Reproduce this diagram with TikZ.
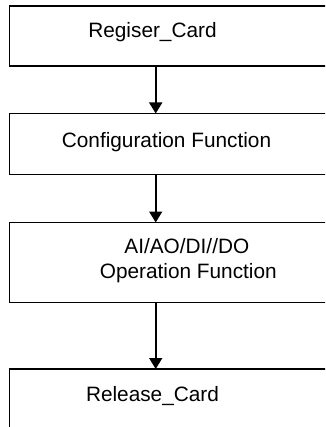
\documentclass[tikz,border=0pt]{standalone}
\usepackage{fontspec}
\setmainfont{Liberation Sans}
\usetikzlibrary{arrows.meta}
\begin{document}
\begin{tikzpicture}[x=1pt,y=-1pt,
  stepbox/.style={draw, line width=1.6pt, minimum width=340pt, anchor=north west,
                  inner sep=0pt, outer sep=0pt},
  steptext/.style={font=\fontsize{20.8}{25}\selectfont, anchor=base, inner sep=0pt},
  flow/.style={line width=1.6pt, -{Triangle[width=13pt,length=11pt]}}]
  % page frame; the boxes run past its right and bottom edges
  \clip (0,0) rectangle (325,427);
  \fill[white] (0,0) rectangle (325,427);

  % process steps
  \node[stepbox, minimum height=60pt] (b1) at (9.5,6)     {};
  \node[stepbox, minimum height=61pt] (b2) at (9.5,113.5) {};
  \node[stepbox, minimum height=80pt] (b3) at (9.5,222.5) {};
  \node[stepbox, minimum height=90pt] (b4) at (9.5,369)   {};

  % step texts
  \node[steptext] (t1)  at (152.5,37.7)  {Regiser\_Card};
  \node[steptext] (t2)  at (166.5,147.7) {Configuration Function};
  \node[steptext] (t3a) at (186.8,253.3) {AI/AO/DI//DO};
  \node[steptext] (t3b) at (188.3,278.3) {Operation Function};
  \node[steptext] (t4)  at (152.5,401.7) {Release\_Card};

  % flow arrows on a common vertical
  \coordinate (ax) at (155.7,0);
  \draw[flow] (b1.south -| ax) -- (b2.north -| ax);
  \draw[flow] (b2.south -| ax) -- (b3.north -| ax);
  \draw[flow] (b3.south -| ax) -- (b4.north -| ax);
\end{tikzpicture}
\end{document}
